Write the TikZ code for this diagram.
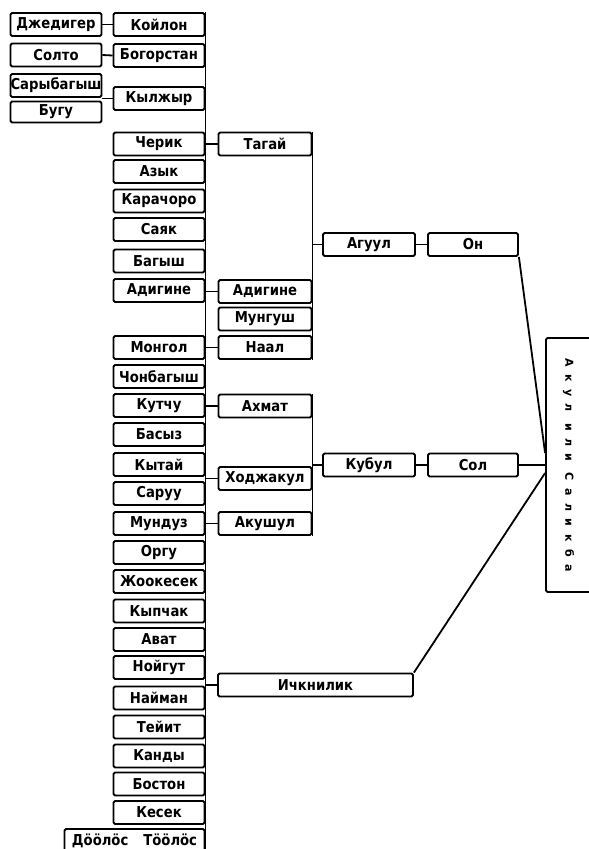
\documentclass[tikz,border=0pt]{standalone}
\usepackage{fontspec}
\setmainfont{DejaVu Sans}
\newfontfamily\tribefont{DejaVu Sans}[FakeStretch=0.88]
\newfontfamily\akulfont{DejaVu Sans}[LetterSpace=68]

\tikzset{
  tribe/.style={draw, line width=1.8pt, rounded corners=1.5pt, minimum width=91pt,
    minimum height=23pt, inner sep=0pt, font=\fontsize{15}{16}\tribefont\bfseries},
  wide/.style={tribe, minimum width=93pt},
  link/.style={line width=1.8pt}
}

\begin{document}
\begin{tikzpicture}[x=1pt,y=-1pt,line join=round]
  % 画布
  \fill[white] (0,0) rectangle (589,849);
  \useasboundingbox (0,0) rectangle (589,849);

  % 第一列
  \node[tribe] (dzhediger)  at (56,24.5) {Джедигер};
  \node[tribe] (solto)      at (56,55)   {Солто};
  \node[tribe] (sarybagysh) at (56,85.5) {Сарыбагыш};
  \node[tribe,minimum height=21pt] (bugu) at (56,112) {Бугу};

  % 第二列
  \node[tribe] (koilon)     at (159,24.5)  {Койлон};
  \node[tribe] (bogorstan)  at (159,55.5)  {Богорстан};
  \node[tribe] (kylzhyr)    at (159,98.5)  {Кылжыр};
  \node[tribe] (cherik)     at (159,144)   {Черик};
  \node[tribe] (azyk)       at (159,171.5) {Азык};
  \node[tribe] (karachoro)  at (159,201)   {Карачоро};
  \node[tribe] (sayak)      at (159,229.5) {Саяк};
  \node[tribe] (bagysh)     at (159,261)   {Багыш};
  \node[tribe] (adigine)    at (159,290.5) {Адигине};
  \node[tribe] (mongol)     at (159,347.5) {Монгол};
  \node[tribe] (chonbagysh) at (159,376.5) {Чонбагыш};
  \node[tribe] (kutchu)     at (159,405.5) {Кутчу};
  \node[tribe] (basyz)      at (159,434.5) {Басыз};
  \node[tribe] (kytai)      at (159,464.5) {Кытай};
  \node[tribe] (saruu)      at (159,493.5) {Саруу};
  \node[tribe] (munduz)     at (159,523.5) {Мундуз};
  \node[tribe] (orgu)       at (159,552.5) {Оргу};
  \node[tribe] (zhookesek)  at (159,581.5) {Жоокесек};
  \node[tribe] (kypchak)    at (159,611)   {Кыпчак};
  \node[tribe] (avat)       at (159,639.5) {Ават};
  \node[tribe] (noigut)     at (159,667.5) {Нойгут};
  \node[tribe] (naiman)     at (159,698)   {Найман};
  \node[tribe] (teiit)      at (159,727)   {Тейит};
  \node[tribe] (kandy)      at (159,756)   {Канды};
  \node[tribe] (boston)     at (159,784)   {Бостон};
  \node[tribe] (kesek)      at (159,812.5) {Кесек};
  \node[tribe,minimum width=140pt] (doolos) at (134.5,840.5) {Дööлöс\quad Тööлöс};

  % 第三列
  \node[wide] (tagai)      at (265,144)   {Тагай};
  \node[wide] (adigineB)   at (265,291.5) {Адигине};
  \node[wide] (mungush)    at (265,319)   {Мунгуш};
  \node[wide] (naal)       at (265,347.5) {Наал};
  \node[wide] (akhmat)     at (265,406)   {Ахмат};
  \node[wide] (khodzhakul) at (265,478.5) {Ходжакул};
  \node[wide] (akushul)    at (265,523.5) {Акушул};
  \node[tribe,minimum width=195pt] (ichkilik) at (315.5,685) {Ичкнилик};

  % 第四、五列
  \node[wide,minimum width=92pt] (aguul) at (369,244.5) {Агуул};
  \node[wide,minimum width=92pt] (kubul) at (369,465)   {Кубул};
  \node[tribe,minimum width=90pt] (on)   at (473,244.5) {Он};
  \node[tribe,minimum width=90pt] (sol)  at (473,465)   {Сол};

  % 右侧总框
  \node[draw, line width=1.8pt, rounded corners=1.5pt, rotate=-90, minimum width=254pt,
    minimum height=45pt, inner sep=0pt, font=\fontsize{11}{13}\akulfont\bfseries]
    (akul) at (568.5,465) {Акул или Саликба};
  \coordinate (akul-on) at ([yshift=12pt]akul.south);
  \coordinate (akul-ich) at ([yshift=-8pt]akul.south);

  % 竖线
  \draw[link] (koilon.north east) -- (doolos.south east);
  \draw[link] (tagai.north east) -- (naal.south east);
  \draw[link] (akhmat.north east) -- (akushul.south east);

  % 横向连线
  \draw[link] (dzhediger.east) -- (koilon.west);
  \draw[link] (solto.east) -- (bogorstan.west);
  \draw[link] (kylzhyr.west) -- (kylzhyr.west -| sarybagysh.east);
  \draw[link] (tagai.west) -- (tagai.west -| cherik.east);
  \draw[link] (adigineB.west) -- (adigineB.west -| adigine.east);
  \draw[link] (naal.west) -- (naal.west -| mongol.east);
  \draw[link] (akhmat.west) -- (akhmat.west -| kutchu.east);
  \draw[link] (khodzhakul.west) -- (khodzhakul.west -| kytai.east);
  \draw[link] (akushul.west) -- (akushul.west -| munduz.east);
  \draw[link] (ichkilik.west) -- (ichkilik.west -| noigut.east);
  \draw[link] (aguul.west) -- (aguul.west -| tagai.east);
  \draw[link] (kubul.west) -- (kubul.west -| akhmat.east);
  \draw[link] (aguul.east) -- (on.west);
  \draw[link] (kubul.east) -- (sol.west);

  % 汇入右框
  \draw[link] (on.south east) -- (akul-on);
  \draw[link] (sol.east) -- (akul.south);
  \draw[link] (ichkilik.north east) -- (akul-ich);
\end{tikzpicture}
\end{document}
